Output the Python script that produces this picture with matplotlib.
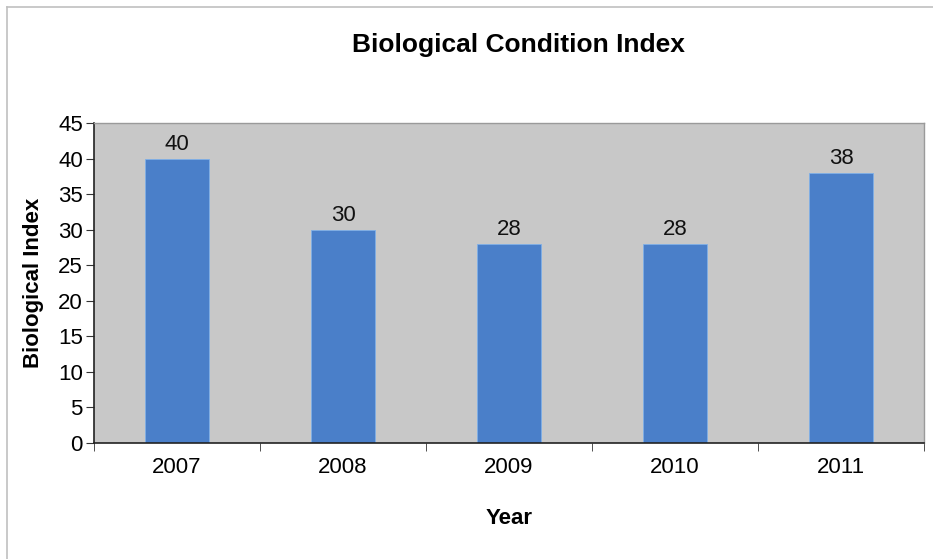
import matplotlib
matplotlib.use("Agg")
import matplotlib.pyplot as plt
from matplotlib.lines import Line2D
import numpy as np

years = ["2007", "2008", "2009", "2010", "2011"]
values = [40, 30, 28, 28, 38]
yticks = [0, 5, 10, 15, 20, 25, 30, 35, 40, 45]

plt.rcParams['font.family'] = ['Liberation Sans', 'DejaVu Sans']

fig = plt.figure(figsize=(9.33, 5.59), dpi=100)
fig.patch.set_facecolor('white')
ax = fig.add_axes([94/933, 1-443/559, (924-94)/933, (443-123)/559])
ax.set_facecolor('#c8c8c8')

x = np.arange(len(years))
ax.bar(x, values, width=0.39, color='#4a7fc9', edgecolor='#7fb0e8', linewidth=0.6)
for xi, v in zip(x, values):
    ax.text(xi, v + 0.5, str(v), ha='center', va='bottom', fontsize=16, color='#111111')

ax.set_xlim(-0.5, len(years) - 0.5)
ax.set_ylim(0, 45)
ax.set_yticks(yticks)
ax.set_xticks(x)
ax.set_xticklabels(years, fontsize=16)
ax.set_xticks(np.arange(-0.5, len(years), 1), minor=True)
ax.tick_params(axis='x', which='major', length=0, pad=10)
ax.tick_params(axis='x', which='minor', length=6, direction='out', color='#333333')
ax.tick_params(axis='y', labelsize=16, length=6, direction='out', color='#333333', pad=2)

for s in ['left', 'bottom']:
    ax.spines[s].set_color('#222222')
    ax.spines[s].set_linewidth(1.2)
for s in ['top', 'right']:
    ax.spines[s].set_color('#9a9a9a')
    ax.spines[s].set_linewidth(1.0)

ax.set_ylabel('Biological Index', fontsize=16, fontweight='bold', labelpad=10)
ax.set_xlabel('Year', fontsize=16, fontweight='bold', labelpad=22)
fig.text(518/933, 1-45/559, 'Biological Condition Index', ha='center', va='center',
         fontsize=19, fontweight='bold')

# outer chart border (top and left)
fig.add_artist(Line2D([7/933, 1], [1-7/559, 1-7/559], color='#c0c0c0', lw=1.2, transform=fig.transFigure))
fig.add_artist(Line2D([7/933, 7/933], [0, 1-7/559], color='#c0c0c0', lw=1.2, transform=fig.transFigure))

fig.savefig('out.png', dpi=100)
